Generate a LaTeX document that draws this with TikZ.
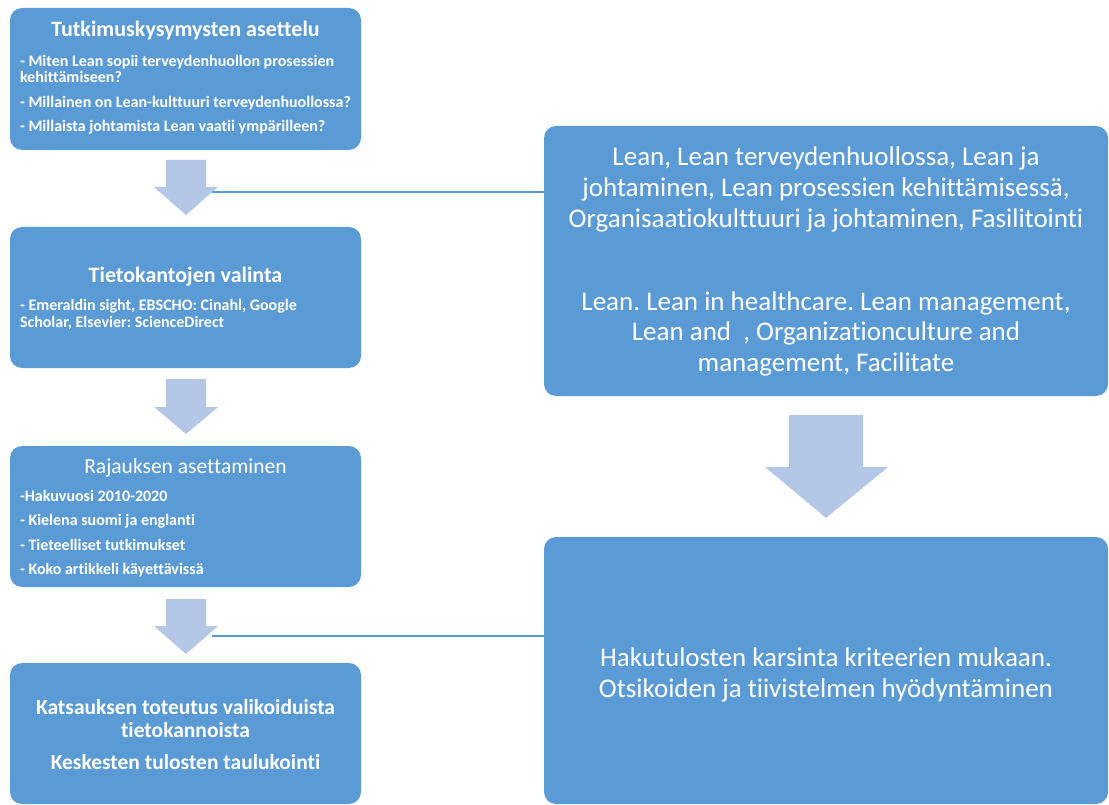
\documentclass[tikz,border=0pt]{standalone}
\usepackage{fontspec}
\setmainfont{Carlito}[Ligatures={NoCommon}]
\frenchspacing
\definecolor{boxblue}{HTML}{5B9BD5}
\definecolor{arrowblue}{HTML}{B4C7E7}
\tikzset{
  box/.style={fill=boxblue, draw=none, rounded corners=12pt, inner sep=0pt, outer sep=0pt, anchor=north west},
  txt/.style={text=white, inner sep=0pt, outer sep=0pt},
  small/.style={txt, font=\fontsize{16}{18}\selectfont\bfseries, anchor=base west},
  title/.style={txt, font=\fontsize{22}{26}\selectfont\bfseries, anchor=base},
  big/.style={txt, font=\fontsize{27}{31}\selectfont, anchor=base},
  conn/.style={draw=boxblue, line width=1.2pt},
  blockarrow/.style={fill=arrowblue, draw=none}
}
\begin{document}
\frenchspacing
\begin{tikzpicture}[x=1pt,y=-1pt]
\useasboundingbox (0,0) rectangle (1109,805);
% boxes
\node[box, minimum width=351pt, minimum height=142pt] (b1) at (10,8) {};
\node[box, minimum width=351pt, minimum height=141pt] (b2) at (10,227) {};
\node[box, minimum width=351pt, minimum height=141pt] (b3) at (10,446) {};
\node[box, minimum width=351pt, minimum height=141pt] (b4) at (10,663) {};
\node[box, minimum width=564pt, minimum height=270pt] (bA) at (544,126) {};
\node[box, minimum width=564pt, minimum height=267pt] (bB) at (544,537) {};
% block arrows
\fill[blockarrow] (166,160) -- (206,160) -- (206,187) -- (218,187) -- (186,215) -- (154,187) -- (166,187) -- cycle;
\fill[blockarrow] (166,379) -- (206,379) -- (206,407) -- (218,407) -- (186,434) -- (154,407) -- (166,407) -- cycle;
\fill[blockarrow] (166,599) -- (206,599) -- (206,626) -- (218,626) -- (186,654) -- (154,626) -- (166,626) -- cycle;
\fill[blockarrow] (789,415) -- (863,415) -- (863,467) -- (888,467) -- (826,518) -- (765,467) -- (789,467) -- cycle;
% connectors
\coordinate (c1) at (212,192);
\coordinate (c3) at (212,636);
\draw[conn] (c1) -- (c1 -| bA.west);
\draw[conn] (c3) -- (c3 -| bB.west);
% box 1 text
\node[title] (t1) at (185.5,37) {Tutkimuskysymysten asettelu};
\node[small] (t1a) at (20,67) {- Miten Lean sopii terveydenhuollon prosessien};
\node[small] (t1b) at (20,83) {kehittämiseen?};
\node[small] (t1c) at (20,108) {- Millainen on Lean-kulttuuri terveydenhuollossa?};
\node[small] (t1d) at (20,132) {- Millaista johtamista Lean vaatii ympärilleen?};
% box 2 text
\node[title] (t2) at (185.5,283) {Tietokantojen valinta};
\node[small] (t2a) at (20,311) {- Emeraldin sight, EBSCHO: Cinahl, Google};
\node[small] (t2b) at (20,327) {Scholar, Elsevier: ScienceDirect};
% box 3 text
\node[title, font=\fontsize{21.5}{25}\selectfont] (t3) at (185.5,473) {Rajauksen asettaminen};
\node[small] (t3a) at (20,501) {-Hakuvuosi 2010-2020};
\node[small] (t3b) at (20,525) {- Kielena suomi ja englanti};
\node[small] (t3c) at (20,550) {- Tieteelliset tutkimukset};
\node[small] (t3d) at (20,574) {- Koko artikkeli käyettävissä};
% box 4 text
\node[title, font=\fontsize{21.5}{25}\selectfont\bfseries] (t4a) at (185.5,714) {Katsauksen toteutus valikoiduista};
\node[title, font=\fontsize{21.5}{25}\selectfont\bfseries] (t4b) at (185.5,737) {tietokannoista};
\node[title, font=\fontsize{21.5}{25}\selectfont\bfseries] (t4c) at (185.5,769) {Keskesten tulosten taulukointi};
% box A text
\node[big] (tA1) at (826,166) {Lean, Lean terveydenhuollossa, Lean ja};
\node[big] (tA2) at (826,197) {johtaminen, Lean prosessien kehittämisessä,};
\node[big] (tA3) at (826,228) {Organisaatiokulttuuri ja johtaminen, Fasilitointi};
\node[big] (tA4) at (826,310) {Lean. Lean in healthcare. Lean management,};
\node[big] (tA5) at (826,341) {Lean and\ \ , Organizationculture and};
\node[big] (tA6) at (826,371) {management, Facilitate};
% box B text
\node[big] (tB1) at (826,666) {Hakutulosten karsinta kriteerien mukaan.};
\node[big] (tB2) at (826,697) {Otsikoiden ja tiivistelmen hyödyntäminen};
\end{tikzpicture}
\end{document}
